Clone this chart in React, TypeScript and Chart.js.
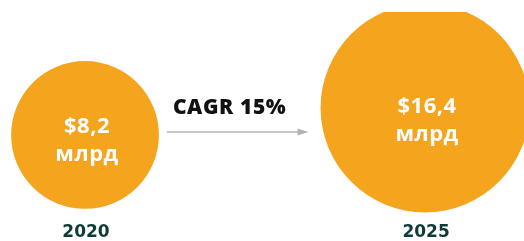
import { useEffect, useRef } from "react";
import { Chart, registerables } from "chart.js";

Chart.register(...registerables);

const years = ["2020", "2025"];
const values = [8.2, 16.4];
const valueLabels = ["$8,2", "$16,4"];
const unitLabel = "млрд";
const cagrLabel = "CAGR 15%";

const ORANGE = "#F5A41D";
const FONT = "'Open Sans', 'DejaVu Sans', sans-serif";

const labelsPlugin = {
  id: "bubbleLabels",
  afterDatasetsDraw(chart: any) {
    const ctx = chart.ctx;
    const meta = chart.getDatasetMeta(0);
    const els = meta.data;
    ctx.save();
    els.forEach((el: any, i: number) => {
      const r = el.options.radius;
      const y1 = el.y - 24 + 0.22 * r;
      ctx.fillStyle = "#ffffff";
      ctx.textAlign = "center";
      ctx.textBaseline = "middle";
      ctx.font = `700 22px ${FONT}`;
      (ctx as any).letterSpacing = "0.5px";
      ctx.fillText(valueLabels[i], el.x + 2, y1);
      ctx.fillText(unitLabel, el.x + 2, y1 + 28);
      ctx.fillStyle = "#0E3B36";
      ctx.font = `700 17px 'DejaVu Sans', sans-serif`;
      (ctx as any).letterSpacing = "0px";
      ctx.fillText(years[i], el.x + 1, chart.height - 8);
    });
    if (els.length > 1) {
      const a = els[0];
      const b = els[1];
      const x0 = a.x + a.options.radius + 8;
      const x1 = b.x - b.options.radius - 12;
      const y = 132;
      ctx.strokeStyle = "#B3B3B3";
      ctx.fillStyle = "#B3B3B3";
      ctx.lineWidth = 1.5;
      ctx.beginPath();
      ctx.moveTo(x0, y);
      ctx.lineTo(x1 - 8, y);
      ctx.stroke();
      ctx.beginPath();
      ctx.moveTo(x1, y);
      ctx.lineTo(x1 - 11, y - 3.5);
      ctx.lineTo(x1 - 11, y + 3.5);
      ctx.closePath();
      ctx.fill();
      ctx.fillStyle = "#111111";
      ctx.textAlign = "left";
      ctx.textBaseline = "middle";
      ctx.font = `800 21px ${FONT}`;
      (ctx as any).letterSpacing = "0.6px";
      ctx.fillText(cagrLabel, x0 + 6, 108);
    }
    ctx.restore();
  },
};

export default function App() {
  const ref = useRef<HTMLCanvasElement | null>(null);
  useEffect(() => {
    if (!ref.current) return;
    const chart = new Chart(ref.current, {
      type: "bubble",
      data: {
        datasets: [
          {
            data: values.map((v, i) => ({ x: i, y: v, r: 25.8 * Math.sqrt(v) })),
            backgroundColor: ORANGE,
            borderWidth: 0,
            hoverBorderWidth: 0,
            clip: 0,
          } as any,
        ],
      },
      options: {
        responsive: false,
        animation: false,
        events: [],
        layout: { autoPadding: false, padding: { top: 12, left: 0, right: 0, bottom: 0 } },
        plugins: { legend: { display: false }, tooltip: { enabled: false } },
        scales: {
          x: { type: "linear", min: -0.25, max: 1.291, display: false },
          y: { type: "linear", min: -24, max: 45.55, display: false },
        },
      },
      plugins: [labelsPlugin],
    });
    return () => chart.destroy();
  }, []);
  return (
    <div style={{ position: "absolute", left: 0, top: 0, width: 524, height: 241 }}>
      <canvas ref={ref} width={524} height={241} />
    </div>
  );
}
